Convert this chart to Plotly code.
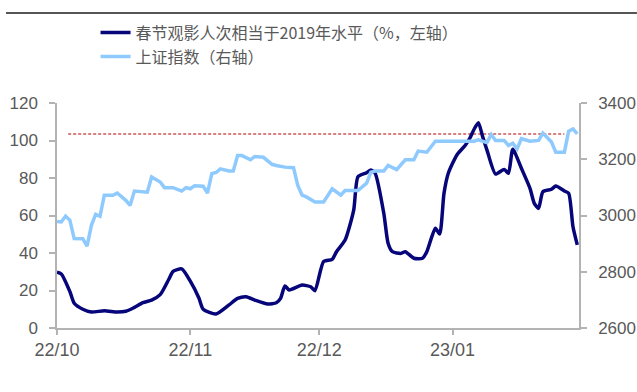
import pandas as pd
import plotly.graph_objects as go

base_date = "2022-10-01"

# 春节观影人次相当于2019年水平 (%, left axis): day offset from base_date, value
movie_days = [0, 1, 3, 4, 6, 8, 11, 14, 16, 18, 20, 22, 24, 26, 27, 29, 31, 33, 34, 37,
              40, 42, 44, 46, 49, 51, 52, 53, 54, 57, 59, 60, 62, 64, 65, 67, 69, 70, 72, 73,
              74, 76, 77, 78, 80, 81, 83, 85, 86, 88, 89, 90, 91, 93, 95, 96, 97, 98, 99, 100,
              102, 104, 105, 106, 108, 110, 111, 112, 113, 115, 116, 118, 119, 120, 121]
movie_vals = [29.7, 28.8, 19.4, 13.2, 10.0, 8.5, 9.2, 8.5, 8.9, 11.0, 13.5, 14.9, 17.8, 26.0, 30.2, 31.5, 25.0, 16.0, 10.0, 7.5,
              12.3, 15.8, 16.7, 14.9, 12.8, 13.5, 15.8, 22.4, 20.3, 22.9, 22.0, 19.9, 35.5, 36.6, 40.7, 46.9, 62.9, 80.7, 82.8, 84.3,
              82.5, 61.2, 45.2, 40.7, 39.8, 40.7, 37.2, 37.2, 40.7, 53.2, 50.1, 71.8, 82.5, 92.3, 97.6, 101.2, 106.0, 109.5, 102.0, 94.9,
              82.1, 84.6, 82.5, 95.3, 85.2, 74.5, 66.5, 63.8, 72.7, 74.0, 75.7, 73.1, 71.8, 54.0, 44.3]

# 上证指数 (right axis)
sh_days = [0, 1, 2, 3, 4, 6, 7, 8, 9, 10, 11, 13, 14, 16, 17, 18, 21, 22, 24, 25,
           27, 29, 30, 31, 32, 34, 35, 36, 37, 38, 40, 41, 42, 43, 45, 46, 48, 50, 51, 53,
           55, 56, 57, 58, 60, 62, 64, 66, 67, 70, 72, 73, 74, 76, 77, 79, 81, 83, 84, 86,
           88, 97, 98, 100, 101, 102, 104, 105, 106, 107, 108, 110, 112, 113, 115, 116, 118, 119, 120, 121]
sh_vals = [2979, 2977, 2998, 2983, 2918, 2917, 2891, 2965, 3004, 2997, 3072, 3072, 3080, 3054, 3036, 3087, 3083, 3137, 3119, 3099,
           3099, 3087, 3099, 3095, 3106, 3104, 3080, 3149, 3153, 3166, 3158, 3158, 3213, 3213, 3198, 3210, 3207, 3182, 3178, 3172,
           3170, 3107, 3072, 3066, 3048, 3048, 3095, 3072, 3089, 3089, 3115, 3154, 3158, 3158, 3178, 3163, 3198, 3198, 3229, 3225,
           3264, 3264, 3269, 3259, 3288, 3267, 3267, 3249, 3257, 3237, 3273, 3264, 3267, 3293, 3261, 3225, 3225, 3300, 3308, 3290]

# reference level (dashed red), left-axis value and its day span
ref_days = [2.6, 118]
ref_val = 103.5

tick_dates = ["2022-10-01", "2022-11-01", "2022-12-01", "2023-01-01"]
tick_text = ["22/10", "22/11", "22/12", "23/01"]

b = pd.Timestamp(base_date)
to_dates = lambda ds: [b + pd.Timedelta(days=d) for d in ds]

font_fam = "Noto Sans CJK SC, Noto Sans, sans-serif"
num_fam = "Liberation Sans, Arial, sans-serif"
grey = "#595959"
axis_col = "#b3b3b3"

fig = go.Figure()
fig.add_trace(go.Scatter(x=to_dates(ref_days), y=[ref_val] * len(ref_days), mode="lines",
                         line=dict(color="#b00000", width=1.1, dash="3px,2px"), showlegend=False,
                         hoverinfo="skip"))
fig.add_trace(go.Scatter(x=to_dates(sh_days), y=sh_vals, mode="lines", yaxis="y2",
                         name="上证指数（右轴）", line=dict(color="#8fcaff", width=3.5)))
fig.add_trace(go.Scatter(x=to_dates(movie_days), y=movie_vals, mode="lines",
                         name="春节观影人次相当于2019年水平（%，左轴）",
                         line=dict(color="#06067a", width=3.5, shape="spline", smoothing=0.6)))

tickfont = dict(family=num_fam, size=17, color=grey)

fig.update_layout(
    width=637, height=392,
    margin=dict(l=57, r=58, t=103, b=64, autoexpand=False),
    paper_bgcolor="white", plot_bgcolor="white",
    font=dict(family=font_fam, size=16, color=grey),
    legend=dict(orientation="v", x=0.15, xanchor="left", y=0.96, yanchor="top",
                yref="container", xref="container", traceorder="reversed",
                font=dict(family=font_fam, size=16, color=grey), bgcolor="rgba(0,0,0,0)",
                tracegroupgap=0),
    xaxis=dict(type="date", range=[b, b + pd.Timedelta(days=121.4)],
               tickvals=[pd.Timestamp(t) for t in tick_dates], ticktext=tick_text,
               showline=True, linecolor=axis_col, linewidth=1.5, ticks="outside",
               tickcolor=axis_col, ticklen=5, tickwidth=1.5, showgrid=False, zeroline=False,
               tickangle=0, tickfont=dict(family=num_fam, size=18, color=grey)),
    yaxis=dict(range=[0, 120], dtick=20, showline=True, linecolor=axis_col, linewidth=1.5,
               ticks="outside", tickcolor=axis_col, ticklen=6, tickwidth=1.5,
               ticklabelstandoff=8,
               showgrid=False, zeroline=False, tickfont=tickfont),
    yaxis2=dict(range=[2600, 3400], dtick=200, overlaying="y", side="right",
                showline=True, linecolor=axis_col, linewidth=1.5, ticks="outside",
                tickcolor=axis_col, ticklen=6, tickwidth=1.5, ticklabelstandoff=8,
                showgrid=False, zeroline=False, tickfont=tickfont),
    shapes=[dict(type="line", xref="paper", yref="paper", x0=-0.0977, x1=1.111, y0=1.4, y1=1.4,
                 line=dict(color="#555555", width=2))],
)

fig.write_html("out.html")
